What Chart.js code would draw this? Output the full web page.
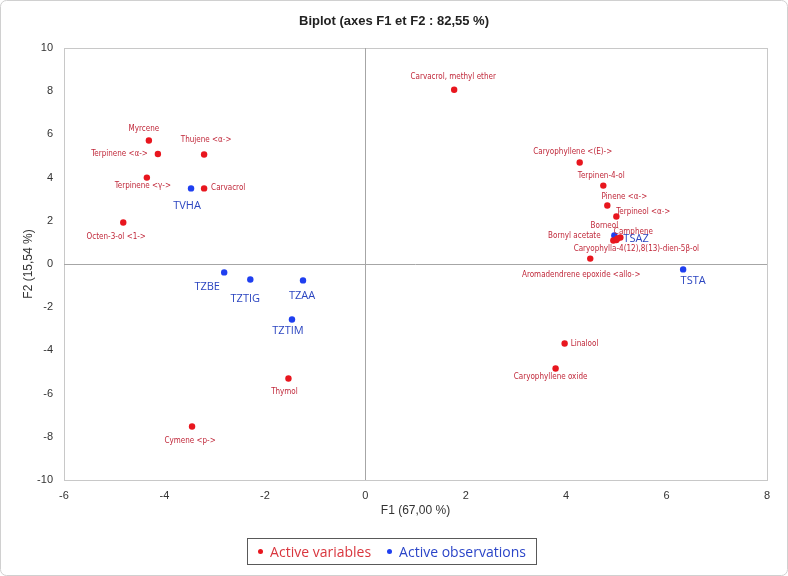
<!DOCTYPE html>
<html>
<head>
<meta charset="utf-8">
<title>Biplot</title>
<script src="https://cdn.jsdelivr.net/npm/chart.js@4.4.1/dist/chart.umd.min.js"></script>
<style>
    body { margin: 0; background: #fff; }
    #wrap { position: relative; width: 788px; height: 576px; }
    #legendBox {
        position: absolute; left: 247px; top: 538px; width: 290px; height: 27px;
        box-sizing: border-box; border: 1px solid #595959;
        display: flex; align-items: center; justify-content: center; gap: 16px;
        font-family: "Open Sans", sans-serif; font-size: 14px;
    }
    #legendBox .item { display: flex; align-items: center; }
    #legendBox span.dot {
        display: inline-block; width: 5px; height: 5px; border-radius: 50%; margin-right: 7px;
    }
</style>
</head>
<body>
<div id="wrap">
    <canvas id="biplot" width="788" height="576"></canvas>
    <div id="legendBox">
        <div class="item" style="color:#d9363e"><span class="dot" style="background:#e8161e"></span>Active variables</div>
        <div class="item" style="color:#2b45c8"><span class="dot" style="background:#1f3ff0"></span>Active observations</div>
    </div>
</div>
<script>
// Données
const varNames = ['Carvacrol, methyl ether', 'Myrcene', 'Terpinene <α->', 'Thujene <α->', 'Terpinene <γ->',
    'Carvacrol', 'Octen-3-ol <1->', 'Thymol', 'Cymene <p->', 'Caryophyllene <(E)->', 'Terpinen-4-ol',
    'Pinene <α->', 'Terpineol <α->', 'Borneol', 'Camphene', 'Bornyl acetate',
    'Caryophylla-4(12),8(13)-dien-5β-ol', 'Aromadendrene epoxide <allo->', 'Linalool', 'Caryophyllene oxide'];
const varF1 = [1.77, -4.31, -4.13, -3.21, -4.35, -3.21, -4.82, -1.53, -3.45, 4.27, 4.74,
    4.82, 5.00, 5.02, 5.08, 4.94, 5.00, 4.48, 3.97, 3.79];
const varF2 = [8.07, 5.72, 5.09, 5.07, 4.00, 3.50, 1.92, -5.30, -7.52, 4.70, 3.63,
    2.71, 2.20, 1.18, 1.23, 1.09, 1.11, 0.25, -3.68, -4.84];

const obsNames = ['TVHA', 'TZBE', 'TZTIG', 'TZAA', 'TZTIM', 'TSAZ', 'TSTA'];
const obsF1 = [-3.47, -2.81, -2.29, -1.24, -1.46, 4.96, 6.33];
const obsF2 = [3.50, -0.39, -0.72, -0.76, -2.57, 1.32, -0.25];

const xTicks = [-6, -4, -2, 0, 2, 4, 6, 8];
const yTicks = [-10, -8, -6, -4, -2, 0, 2, 4, 6, 8, 10];

// placement des étiquettes autour des points : [dx, dy, alignement]
const varLabelPos = [[-1, -13, 'c'], [-5, -12, 'c'], [-10, 0, 'r'], [2, -15, 'c'], [-4, 8, 'c'],
    [7, 0, 'l'], [-7, 14, 'c'], [-4, 13, 'c'], [-2, 14, 'c'], [-7, -11, 'c'], [-2, -10, 'c'],
    [17, -9, 'c'], [27, -5, 'c'], [-13, -13, 'c'], [13, -6, 'c'], [-39, -5, 'c'],
    [20, 9, 'c'], [-9, 16, 'c'], [6, 0, 'l'], [-5, 8, 'c']];
const obsLabelPos = [[-4, 17, 'c'], [-17, 14, 'c'], [-5, 19, 'c'], [-1, 15, 'c'], [-4, 11, 'c'],
    [9, 3, 'l'], [10, 11, 'c']];

function toPoints(xs, ys) {
    return xs.map((x, i) => ({ x: x, y: ys[i] }));
}

const alignMap = { c: 'center', l: 'left', r: 'right' };

const biplotDecor = {
    id: 'biplotDecor',
    beforeDatasetsDraw(chart) {
        const ctx = chart.ctx;
        const a = chart.chartArea;
        const sx = chart.scales.x, sy = chart.scales.y;
        ctx.save();
        // cadre
        ctx.strokeStyle = '#c8c8c8';
        ctx.lineWidth = 1;
        ctx.strokeRect(Math.round(a.left) + 0.5, Math.round(a.top) + 0.5,
            Math.round(a.right - a.left), Math.round(a.bottom - a.top));
        // axes à zéro
        ctx.strokeStyle = '#a6a6a6';
        const x0 = Math.round(sx.getPixelForValue(0)) + 0.5;
        const y0 = Math.round(sy.getPixelForValue(0)) + 0.5;
        ctx.beginPath();
        ctx.moveTo(x0, a.top); ctx.lineTo(x0, a.bottom);
        ctx.moveTo(a.left, y0); ctx.lineTo(a.right, y0);
        ctx.stroke();
        ctx.restore();
    },
    afterDatasetsDraw(chart) {
        const ctx = chart.ctx;
        ctx.save();
        ctx.textBaseline = 'middle';

        const drawLabels = (dsIndex, names, pos, font, color) => {
            const meta = chart.getDatasetMeta(dsIndex);
            ctx.font = font;
            ctx.fillStyle = color;
            meta.data.forEach((pt, i) => {
                const p = pos[i];
                ctx.textAlign = alignMap[p[2]];
                ctx.fillText(names[i], pt.x + p[0], pt.y + p[1]);
            });
        };
        drawLabels(0, varNames, varLabelPos, '8px "Liberation Sans Narrow", "DejaVu Sans Condensed", sans-serif', '#c0283a');
        drawLabels(1, obsNames, obsLabelPos, '11px "Open Sans", sans-serif', '#2b45c0');

        // titres
        const a = chart.chartArea;
        ctx.fillStyle = '#222';
        ctx.textAlign = 'center';
        ctx.font = 'bold 13px "Liberation Sans", Arial, sans-serif';
        ctx.fillText('Biplot (axes F1 et F2 : 82,55 %)', 394, 21);

        ctx.fillStyle = '#333';
        ctx.font = '12px "Liberation Sans", Arial, sans-serif';
        ctx.fillText('F1 (67,00 %)', (a.left + a.right) / 2, 511);

        ctx.save();
        ctx.translate(29, (a.top + a.bottom) / 2);
        ctx.rotate(-Math.PI / 2);
        ctx.fillText('F2 (15,54 %)', 0, 0);
        ctx.restore();

        // bordure extérieure
        ctx.strokeStyle = '#d0d0d0';
        ctx.lineWidth = 1;
        ctx.beginPath();
        ctx.roundRect(0.5, 0.5, 787, 575, 6);
        ctx.stroke();
        ctx.restore();
    }
};

const tickFont = { family: '"Liberation Sans Narrow", "Liberation Sans", sans-serif', size: 11 };

new Chart(document.getElementById('biplot'), {
    type: 'scatter',
    data: {
        datasets: [{
            label: 'Active variables',
            data: toPoints(varF1, varF2),
            backgroundColor: '#e8161e',
            borderWidth: 0,
            pointRadius: 3.2
        }, {
            label: 'Active observations',
            data: toPoints(obsF1, obsF2),
            backgroundColor: '#1f3ff0',
            borderWidth: 0,
            pointRadius: 3.2
        }]
    },
    options: {
        responsive: false,
        animation: false,
        devicePixelRatio: 1,
        events: [],
        layout: { padding: { top: 48, right: 21, bottom: 56, left: 0 } },
        plugins: {
            legend: { display: false },
            tooltip: { enabled: false }
        },
        scales: {
            x: {
                type: 'linear',
                min: xTicks[0],
                max: xTicks[xTicks.length - 1],
                afterBuildTicks: (s) => { s.ticks = xTicks.map(v => ({ value: v })); },
                afterFit: (s) => { s.height = 40; },
                grid: { display: false, drawTicks: false },
                border: { display: false },
                ticks: { font: tickFont, color: '#333', padding: 9 }
            },
            y: {
                type: 'linear',
                min: yTicks[0],
                max: yTicks[yTicks.length - 1],
                afterBuildTicks: (s) => { s.ticks = yTicks.map(v => ({ value: v })); },
                afterFit: (s) => { s.width = 64; },
                grid: { display: false, drawTicks: false },
                border: { display: false },
                ticks: { font: tickFont, color: '#333', padding: 11 }
            }
        }
    },
    plugins: [biplotDecor]
});
</script>
</body>
</html>
